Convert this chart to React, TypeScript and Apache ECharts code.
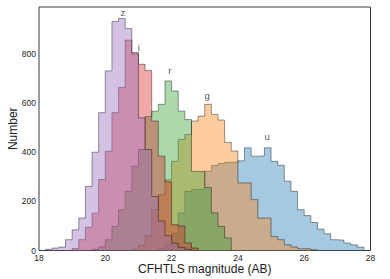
import React, { useEffect, useRef } from "react";
import * as echarts from "echarts";

// Histogram bins are 0.2 mag wide; each band lists counts from its first bin edge.
const BIN = 0.2;

const uStart = 21.6;
const uCounts = [8, 25, 70, 153, 240, 248, 250, 323, 346, 354, 359, 359, 365, 418, 384, 385, 418, 363, 347, 282, 241, 166, 142, 114, 87, 68, 44, 42, 30, 23, 14];

const gStart = 20.8;
const gCounts = [5, 20, 60, 166, 227, 288, 363, 452, 472, 527, 547, 595, 554, 531, 440, 405, 275, 275, 207, 132, 132, 57, 44, 23, 14, 7, 7, 3];

const rStart = 19.6;
const rCounts = [5, 15, 44, 98, 166, 241, 343, 411, 545, 567, 595, 690, 649, 567, 533, 322, 322, 256, 153, 98, 51];

const iStart = 19.0;
const iCounts = [8, 44, 95, 152, 289, 404, 561, 663, 856, 806, 758, 733, 527, 384, 280, 105, 100, 31, 10];

const zStart = 18.2;
const zCounts = [5, 10, 14, 44, 84, 132, 261, 400, 561, 731, 932, 944, 904, 800, 540, 411, 220, 120, 60, 30, 12, 5];

const bandNames = ["u", "g", "r", "i", "z"];
const bandStarts = [uStart, gStart, rStart, iStart, zStart];
const bandCounts = [uCounts, gCounts, rCounts, iCounts, zCounts];
const bandColors = ["#1f77b4", "#ff7f0e", "#2ca02c", "#d62728", "#9467bd"];

// Text anchors for the band labels (magnitude, count)
const labelMag = [24.88, 23.07, 21.95, 21.01, 20.53];
const labelCount = [464, 632, 734, 827, 968];

const xTicks = [18, 20, 22, 24, 26, 28];
const yMax = 991;

function hexToRgba(hex: string, a: number) {
  const n = parseInt(hex.slice(1), 16);
  return `rgba(${(n >> 16) & 255},${(n >> 8) & 255},${n & 255},${a})`;
}

function histPoints(start: number, counts: number[]) {
  const pts: number[][] = [[start, 0]];
  counts.forEach((c, k) => pts.push([+(start + k * BIN).toFixed(3), c]));
  pts.push([+(start + counts.length * BIN).toFixed(3), 0]);
  return pts;
}

export default function App() {
  const ref = useRef<HTMLDivElement>(null);
  useEffect(() => {
    if (!ref.current) return;
    const chart = echarts.init(ref.current, undefined, { renderer: "svg" });
    const font = "'Liberation Sans', Arial, sans-serif";
    const series: any[] = bandNames.map((name, b) => ({
      type: "line",
      name,
      step: "end",
      showSymbol: false,
      symbol: "none",
      data: histPoints(bandStarts[b], bandCounts[b]),
      lineStyle: { color: "rgba(0,0,0,0.4)", width: 1 },
      areaStyle: { color: hexToRgba(bandColors[b], 0.4), opacity: 1 },
      silent: true,
      z: 2 + b,
    }));
    series.push({
      type: "scatter",
      symbolSize: 1,
      itemStyle: { color: "rgba(0,0,0,0)" },
      data: bandNames.map((name, b) => ({ name, value: [labelMag[b], labelCount[b]] })),
      label: {
        show: true,
        position: "inside",
        formatter: (p: any) => p.name,
        color: "#1a1a1a",
        fontSize: 9.5,
        fontFamily: font,
      },
      z: 20,
    });
    chart.setOption({
      animation: false,
      backgroundColor: "#ffffff",
      grid: {
        left: 39,
        top: 7,
        width: 331.5,
        height: 243.5,
        outerBoundsMode: "none",
        containLabel: false,
        show: true,
        borderColor: "#3a3a3a",
        borderWidth: 1,
        backgroundColor: "transparent",
      },
      xAxis: {
        type: "value",
        min: xTicks[0],
        max: xTicks[xTicks.length - 1],
        interval: 2,
        axisLine: { show: false },
        axisTick: { show: false },
        splitLine: { show: false },
        axisLabel: { color: "#222", fontSize: 8.5, fontFamily: font, margin: 3 },
        name: "CFHTLS magnitude (AB)",
        nameLocation: "middle",
        nameGap: 12,
        nameMoveOverlap: false,
        nameTextStyle: { color: "#222", fontSize: 12, fontFamily: font, verticalAlign: "top" },
      },
      yAxis: {
        type: "value",
        min: 0,
        max: yMax,
        interval: 200,
        axisLine: { show: false },
        axisTick: { show: false },
        splitLine: { show: false },
        axisLabel: { color: "#222", fontSize: 8.5, fontFamily: font, margin: 3, showMaxLabel: false },
        name: "Number",
        nameLocation: "middle",
        nameGap: 20,
        nameMoveOverlap: false,
        nameTextStyle: { color: "#222", fontSize: 12, fontFamily: font },
      },
      series,
    });
    return () => chart.dispose();
  }, []);
  return (
    <div
      ref={ref}
      style={{ position: "fixed", left: 0, top: 0, width: 390, height: 279, background: "#fff" }}
    />
  );
}
